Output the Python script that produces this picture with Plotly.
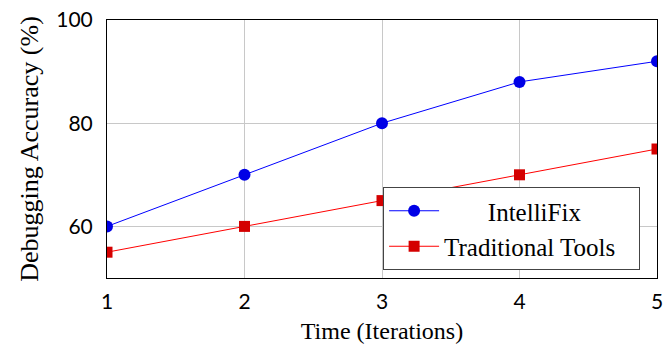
import plotly.graph_objects as go

iterations = [1, 2, 3, 4, 5]
intellifix = [60, 70, 80, 88, 92]
traditional = [55, 60, 65, 70, 75]
series_names = ["IntelliFix", "Traditional Tools"]
x_ticks = [1, 2, 3, 4, 5]
y_ticks = [60, 80, 100]

NB = "\u00a0"
legend_labels = [NB * 7 + series_names[0], series_names[1] + NB * 3]

fig = go.Figure()
fig.add_trace(go.Scatter(
    x=iterations, y=intellifix, name=legend_labels[0], mode="lines+markers",
    line=dict(color="#0000ff", width=1),
    marker=dict(symbol="circle", size=12, color="#0000e6", line=dict(width=0)),
))
fig.add_trace(go.Scatter(
    x=iterations, y=traditional, name=legend_labels[1], mode="lines+markers",
    line=dict(color="#ff0000", width=1),
    marker=dict(symbol="square", size=11, color="#d40000", line=dict(width=0)),
))

axis_common = dict(
    showgrid=True, gridcolor="#c8c8c8", gridwidth=1,
    showline=True, linecolor="#000000", linewidth=1, mirror=True,
    zeroline=False, ticks="", automargin=False,
    tickfont=dict(family="Lato", size=21, color="#000"),
)
fig.update_xaxes(
    range=[1, 5], tickvals=x_ticks, ticktext=[str(v) for v in x_ticks],
    title=dict(text="Time (Iterations)", font=dict(family="Liberation Serif", size=24, color="#000"), standoff=9),
    ticklabelstandoff=5,
    **axis_common,
)
fig.update_yaxes(
    range=[50, 100], tickvals=y_ticks, ticktext=[str(v) for v in y_ticks],
    title=dict(text="Debugging Accuracy (%)", font=dict(family="Liberation Serif", size=26, color="#000"), standoff=10),
    ticklabelstandoff=9,
    **axis_common,
)
fig.update_layout(
    width=672, height=347,
    margin=dict(l=107, r=15, t=20, b=69),
    paper_bgcolor="white", plot_bgcolor="white",
    showlegend=True,
    legend=dict(
        x=0.502, y=0.031, xanchor="left", yanchor="bottom",
        bgcolor="white", bordercolor="#444444", borderwidth=1,
        font=dict(family="Liberation Serif", size=25, color="#000"),
        itemwidth=50, tracegroupgap=0,
    ),
)
fig.write_html(
    "out.html",
    config={"displayModeBar": False},
    post_script="document.body.style.margin='0';document.body.style.overflow='hidden';",
)
